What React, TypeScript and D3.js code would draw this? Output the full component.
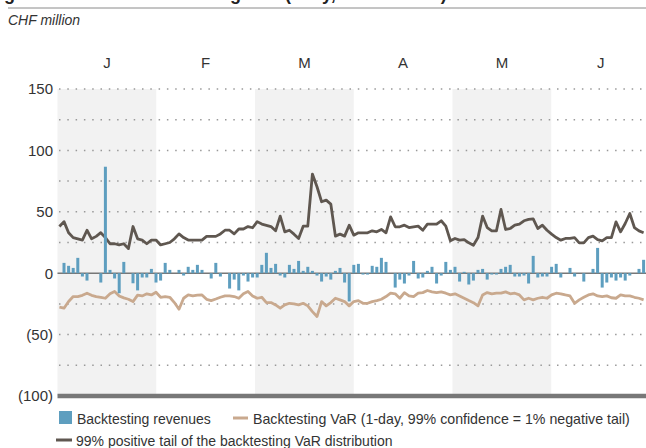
import React, { useRef, useEffect } from "react";
import * as d3 from "d3";

// month bands along the top
const months = ["J", "F", "M", "A", "M", "J"];
// labelled y ticks and dotted gridlines (CHF million)
const yTicks = [150, 100, 50, 0, -50, -100];
const gridValues = [150, 125, 100, 75, 50, 25, -25, -50, -75];

// daily backtesting revenues
const revenues = [
  0, 8.4, 6, 4.3, 12.5, -2.7, -6, 0, 0, -7.6, 86.7, 2.7, -4.3, -16.3, 9.2, 0,
  -8.2, -14, -3.5, -3.5, 3.5, -7.6, -6, 8.4, 2.7, 0, 2.7, -1.9, 5.2, 2.7, 6.8, 2.7,
  0, -4.3, 8.4, -2.7, 0, -12.5, -5.2, -14, -1.9, -6.8, -3.5, -3.5, 6.8, 16.6, 4.3, 7.6,
  -1.9, -3.5, 6.8, 3.5, 10, 1.9, 5.2, 1.9, -1.9, -6.8, -2.7, -5.2, 1.9, 4.3, -7.6, -23,
  6.8, 7.6, -1.1, -1.1, 6, 5.2, 12.5, 9.2, 0, -11.7, -5.2, -8.4, -1.9, 10, -4.3, -3.5,
  1.9, 5.2, -8.4, -1.9, 9.2, 2.7, 5.2, -6.8, 1.1, -9.2, -6, 2.7, 3.5, -5.2, -1.1, -1.1,
  3.5, 5.2, 6.8, -2.7, -2.7, -1.9, -8.4, 14.1, -3.5, -2.7, -2.7, 5.2, 7.6, -3.5, 0, 4.3,
  -2.7, 0, -6.8, 0, 3.5, 20.6, -11.7, -7.6, -3.5, -6, -3.5, -6, -1.9, 0, 3.5, 10.9,
];

// backtesting VaR (1-day, 99%, negative tail)
const backtestingVaR = [
  -27.7, -28.5, -23.1, -19, -19, -18, -16.3, -18, -19, -19.6, -20.4, -16.8, -14.9, -18.5, -20.1, -21.2,
  -23.1, -17.9, -18.5, -16.8, -17.7, -15.5, -19.6, -19, -19.6, -23.9, -29.3, -20.4, -17.7, -18.5, -17.9, -17.7,
  -21.3, -22.3, -21, -19.6, -18.5, -18.5, -19, -20.4, -16.8, -14.9, -18.5, -20.4, -19.6, -23.9, -23.9, -25.8,
  -28.5, -25.8, -24.5, -25, -25.8, -24.5, -26.6, -31.3, -35.3, -23.1, -26.6, -23.9, -20.4, -21.7, -23.1, -26.6,
  -23.1, -22.3, -24.5, -24.5, -23.1, -22.3, -21.2, -19, -16.3, -16.8, -20.4, -15.8, -18.5, -19, -16.3, -15.8,
  -14.1, -15.2, -15.8, -15.2, -16.3, -17.7, -16.8, -18.5, -20.4, -22.3, -24, -26.6, -17.7, -15.8, -16.8, -16.3,
  -16.3, -15.2, -16.8, -16.3, -17.7, -21.7, -20.4, -21.7, -20.4, -19.6, -20.4, -17.7, -16.3, -16.8, -17.7, -18.5,
  -24.5, -21.7, -19.6, -17.7, -16.8, -18.5, -19, -18.5, -20, -20.4, -17.7, -18.5, -18.5, -19.6, -20.4, -21.7,
];

// 99% positive tail of the backtesting VaR distribution
const positiveTail = [
  38, 42, 33, 29, 28, 27, 35, 28, 30, 33, 29, 24, 24, 23, 24, 20,
  38, 28, 27, 24, 27, 27, 23, 24, 25, 28, 32, 29, 27, 27, 27, 27,
  30, 30, 30, 32, 35, 35, 32, 36, 36, 38, 37, 42, 40, 39, 38, 34.5,
  46.5, 33.7, 35, 31.8, 28.3, 38.3, 38.3, 80.7, 70.4, 58.2, 59.5, 56.3, 30.2, 31.8,
  30.2, 39.1, 31, 32.9, 32.9, 32.9, 34.5, 33.7, 35.6, 32.9, 45.9, 37.8, 37.8, 39.1,
  37.2, 37.8, 38.3, 35, 40, 40, 40, 42.7, 38.3, 26.4, 28.3, 26.9, 27.4, 24.7, 22.8, 29,
  46.5, 37.2, 34.5, 34.5, 51.9, 35.6, 36.4, 39.1, 40, 42.7, 43.8, 44.3, 36.4, 39.1, 35, 31.8,
  29, 26.9, 28.3, 28.3, 29, 24.7, 24.7, 29, 30.2, 27.4, 26.4, 29, 29, 41.8, 33.7, 40.5,
  48.6, 37.2, 34.5, 33,
];

const fmt = (v) => (v < 0 ? `(${-v})` : `${v}`);

const App = () => {
  const ref = useRef(null);

  useEffect(() => {
    const svg = d3.select(ref.current);
    svg.selectAll("*").remove();

    const font = "'Liberation Sans', Arial, sans-serif";
    const textCol = "#333";
    const left = 57.5;
    const right = 646;

    const y = d3.scaleLinear().domain([-100, 150]).range([396, 89]);
    const band = d3
      .scaleBand()
      .domain(d3.range(months.length))
      .range([left, 650]);
    const x = d3
      .scaleLinear()
      .domain([0, revenues.length - 1])
      .range([59.4, 643.6]);

    // title, cropped by the top edge as in the source page
    svg
      .append("text")
      .attr("x", -50)
      .attr("y", 0)
      .attr("font-family", font)
      .attr("font-weight", "bold")
      .attr("font-size", 18)
      .attr("fill", "#222")
      .text("Trading revenues and backtesting VaR (daily, CHF million)");
    svg
      .append("line")
      .attr("x1", 8)
      .attr("x2", 646)
      .attr("y1", 8)
      .attr("y2", 8)
      .attr("stroke", "#8a8a8a")
      .attr("stroke-width", 1);

    svg
      .append("text")
      .attr("x", 8)
      .attr("y", 25)
      .attr("font-family", font)
      .attr("font-style", "italic")
      .attr("font-size", 14)
      .attr("fill", textCol)
      .text("CHF million");

    // shaded month bands
    svg
      .append("g")
      .selectAll("rect")
      .data(months.map((m, i) => i).filter((i) => i % 2 === 0))
      .enter()
      .append("rect")
      .attr("x", (i) => band(i))
      .attr("y", y(150))
      .attr("width", band.bandwidth())
      .attr("height", y(-100) - y(150))
      .attr("fill", "#f2f2f2");

    svg
      .append("g")
      .selectAll("text")
      .data(months)
      .enter()
      .append("text")
      .attr("x", (d, i) => band(i) + band.bandwidth() / 2)
      .attr("y", 68)
      .attr("text-anchor", "middle")
      .attr("font-family", font)
      .attr("font-size", 15)
      .attr("fill", textCol)
      .text((d) => d);

    // dotted gridlines
    svg
      .append("g")
      .selectAll("line")
      .data(gridValues)
      .enter()
      .append("line")
      .attr("x1", 59)
      .attr("x2", right)
      .attr("y1", (d) => y(d))
      .attr("y2", (d) => y(d))
      .attr("stroke", "#999")
      .attr("stroke-width", 1.5)
      .attr("stroke-dasharray", "1.5 6.8");

    // y axis labels
    const yAxis = svg
      .append("g")
      .attr("transform", `translate(53,0)`)
      .call(
        d3
          .axisLeft(y)
          .tickValues(yTicks)
          .tickFormat(fmt)
          .tickSize(0)
          .tickPadding(0)
      );
    yAxis.select(".domain").remove();
    yAxis
      .selectAll("text")
      .attr("font-family", font)
      .attr("font-size", 15)
      .attr("fill", textCol);

    // zero line
    svg
      .append("line")
      .attr("x1", left)
      .attr("x2", right)
      .attr("y1", y(0))
      .attr("y2", y(0))
      .attr("stroke", "#777")
      .attr("stroke-width", 1.5);

    // lines
    const line = d3
      .line()
      .x((d, i) => x(i))
      .y((d) => y(d));

    svg
      .append("path")
      .datum(backtestingVaR)
      .attr("d", line)
      .attr("fill", "none")
      .attr("stroke", "#c9a98e")
      .attr("stroke-width", 2.8)
      .attr("stroke-linejoin", "round");

    svg
      .append("path")
      .datum(positiveTail)
      .attr("d", line)
      .attr("fill", "none")
      .attr("stroke", "#5f5750")
      .attr("stroke-width", 2.8)
      .attr("stroke-linejoin", "round");

    // revenue bars
    const bw = 3;
    svg
      .append("g")
      .selectAll("rect")
      .data(revenues)
      .enter()
      .append("rect")
      .attr("x", (d, i) => x(i) - bw / 2)
      .attr("y", (d) => y(Math.max(0, d)))
      .attr("width", bw)
      .attr("height", (d) => Math.abs(y(d) - y(0)))
      .attr("fill", "#5e9ebf");

    // bottom axis line at (100)
    svg
      .append("line")
      .attr("x1", left)
      .attr("x2", right)
      .attr("y1", y(-100))
      .attr("y2", y(-100))
      .attr("stroke", "#787878")
      .attr("stroke-width", 4.5);

    // legend
    const lg = svg
      .append("g")
      .attr("font-family", font)
      .attr("font-size", 14)
      .attr("fill", textCol);
    lg.append("rect")
      .attr("x", 59)
      .attr("y", 411)
      .attr("width", 13)
      .attr("height", 13)
      .attr("fill", "#5e9ebf");
    lg.append("text").attr("x", 77).attr("y", 424).text("Backtesting revenues");
    lg.append("line")
      .attr("x1", 233)
      .attr("x2", 248)
      .attr("y1", 418)
      .attr("y2", 418)
      .attr("stroke", "#c9a98e")
      .attr("stroke-width", 3);
    lg.append("text")
      .attr("x", 253)
      .attr("y", 424)
      .attr("font-size", 14.2)
      .text("Backtesting VaR (1-day, 99% confidence = 1% negative tail)");
    lg.append("line")
      .attr("x1", 56)
      .attr("x2", 72)
      .attr("y1", 440)
      .attr("y2", 440)
      .attr("stroke", "#5f5750")
      .attr("stroke-width", 3);
    lg.append("text")
      .attr("x", 76)
      .attr("y", 446)
      .text("99% positive tail of the backtesting VaR distribution");
  }, []);

  return (
    <svg
      ref={ref}
      width={646}
      height={448}
      style={{ position: "absolute", left: 0, top: 0, background: "#fff" }}
    />
  );
};

export default App;
